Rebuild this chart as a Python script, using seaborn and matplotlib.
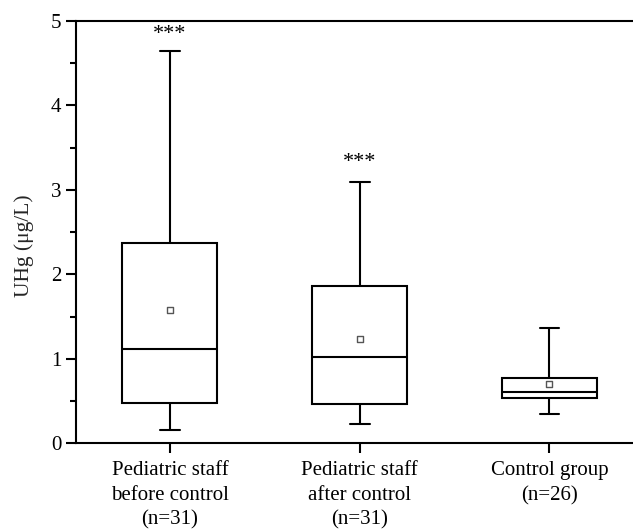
import numpy as np
import pandas as pd
import matplotlib
matplotlib.use("Agg")
import matplotlib.pyplot as plt
from matplotlib.ticker import MultipleLocator
import seaborn as sns

# ---- data ----
groups = ["Pediatric staff\nbefore control\n(n=31)",
          "Pediatric staff\nafter control\n(n=31)",
          "Control group\n(n=26)"]
whisker_low = [0.16, 0.23, 0.35]
q1 = [0.48, 0.46, 0.53]
median = [1.12, 1.02, 0.61]
q3 = [2.37, 1.86, 0.77]
whisker_high = [4.65, 3.09, 1.36]
means = [1.58, 1.23, 0.70]
stars = ["***", "***", ""]
star_y = [4.84, 3.33, 0.0]
y_ticks = [0, 1, 2, 3, 4, 5]
y_label = "UHg (\u03bcg/L)"

# five-number summaries as a long table (quartiles of 5 points = exact values)
rows = []
for g, a, b, c, d, e in zip(groups, whisker_low, q1, median, q3, whisker_high):
    for v in (a, b, c, d, e):
        rows.append({"group": g, "value": v})
df = pd.DataFrame(rows)

sns.set_theme(style="ticks")
plt.rcParams["font.family"] = ["Liberation Serif", "DejaVu Serif"]

fig = plt.figure(figsize=(6.33, 5.32), dpi=100)
ax = fig.add_axes([0.120, 0.167, 0.880, 0.7935])

sns.boxplot(data=df, x="group", y="value", order=groups, whis=(0, 100),
            width=0.5, color="white", linecolor="black", linewidth=1.5,
            showfliers=False, capwidths=0.105, ax=ax)

sns.scatterplot(x=groups, y=means, marker="s", s=20, color="white",
                edgecolor="#555555", linewidth=1.0, zorder=5, ax=ax)

for i, (s, yy) in enumerate(zip(stars, star_y)):
    if s:
        ax.text(i, yy, s, ha="center", va="center", fontsize=16, color="black")

ax.set_xlim(-0.495, 2.44)
ax.set_ylim(0, 5)
ax.set_yticks(y_ticks)
ax.yaxis.set_minor_locator(MultipleLocator(0.5))
ax.set_xlabel("")
ax.set_ylabel(y_label, fontsize=15.5)
ax.yaxis.set_label_coords(-0.075, 0.467)

ax.tick_params(axis="both", which="major", direction="out", length=7,
               width=1.5, labelsize=15, color="black", labelcolor="black")
ax.tick_params(axis="y", which="minor", direction="out", length=4,
               width=1.5, color="black")
ax.tick_params(axis="x", which="major", pad=6)
for lab in ax.get_xticklabels():
    lab.set_linespacing(1.4)

for side in ("left", "bottom", "top"):
    ax.spines[side].set_visible(True)
    ax.spines[side].set_linewidth(1.5)
    ax.spines[side].set_color("black")
ax.spines["right"].set_visible(False)

fig.savefig("out.png", dpi=100)
